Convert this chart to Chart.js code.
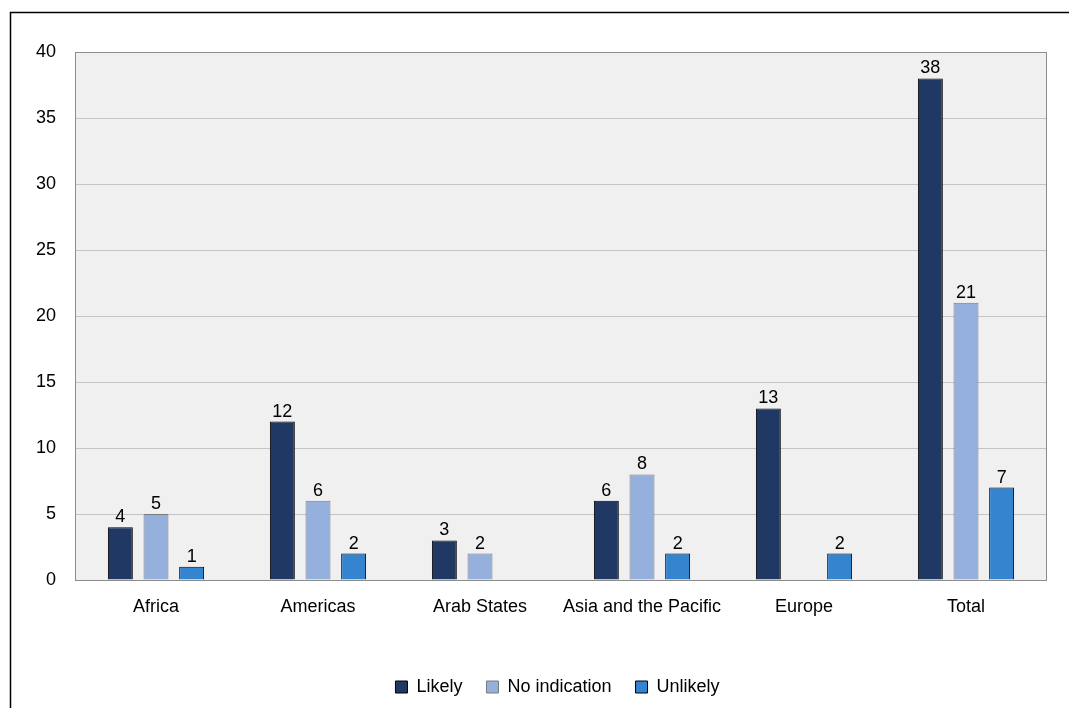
<!DOCTYPE html>
<html>
<head>
<meta charset="utf-8">
<script src="https://cdn.jsdelivr.net/npm/chart.js@4"></script>
<style>
  html, body { margin: 0; padding: 0; background: #fff; }
  #wrap { width: 1069px; height: 708px; position: relative; }
</style>
</head>
<body>
<div id="wrap"><canvas id="grafico"></canvas></div>
<script>
// datos del grafico
const regiones = ['Africa', 'Americas', 'Arab States', 'Asia and the Pacific', 'Europe', 'Total'];
const likely = [4, 12, 3, 6, 13, 38];
const noIndication = [5, 6, 2, 8, null, 21];
const unlikely = [1, 2, null, 2, 2, 7];
const ticksY = [0, 5, 10, 15, 20, 25, 30, 35, 40];

const fuente = "'Liberation Sans', Arial, sans-serif";

// marco negro, fondo del area de trazado y etiquetas de valores
const fondo = {
    id: 'fondo',
    afterLayout(chart) {
        // la leyenda del original esta algo desplazada a la derecha
        if (chart.legend) {
            chart.legend.left += 34;
            chart.legend.right += 34;
        }
    },
    beforeDraw(chart) {
        const c = chart.ctx, a = chart.chartArea;
        c.save();
        c.fillStyle = '#ffffff';
        c.fillRect(0, 0, chart.width, chart.height);
        c.strokeStyle = '#000';
        c.lineWidth = 1.5;
        c.strokeRect(10.5, 12.5, 1200, 900);
        c.fillStyle = '#f0f0f0';
        c.fillRect(a.left, a.top, a.right - a.left, a.bottom - a.top);
        c.restore();
    },
    afterDatasetsDraw(chart) {
        const c = chart.ctx, a = chart.chartArea;
        c.save();
        c.strokeStyle = '#8c8c8c';
        c.lineWidth = 1;
        c.strokeRect(a.left + 0.5, a.top + 0.5, a.right - a.left - 1, a.bottom - a.top);
        c.fillStyle = '#000';
        c.font = '18px ' + fuente;
        c.textAlign = 'center';
        c.textBaseline = 'bottom';
        chart.data.datasets.forEach((ds, i) => {
            chart.getDatasetMeta(i).data.forEach((bar, j) => {
                const v = ds.data[j];
                if (v === null || v === undefined) return;
                c.fillText(String(v), bar.x, bar.y - 1);
            });
        });
        c.restore();
    }
};

new Chart(document.getElementById('grafico'), {
    type: 'bar',
    data: {
        labels: regiones,
        datasets: [
            { label: 'Likely', data: likely, backgroundColor: '#203864', borderColor: '#000000', borderWidth: 1 },
            { label: 'No indication', data: noIndication, backgroundColor: '#95b0dd', borderColor: '#7a7a7a', borderWidth: 1 },
            { label: 'Unlikely', data: unlikely, backgroundColor: '#3584d0', borderColor: '#000000', borderWidth: 1 }
        ]
    },
    options: {
        responsive: true,
        maintainAspectRatio: false,
        animation: false,
        layout: { padding: { top: 52, right: 22, left: 0, bottom: 2 } },
        datasets: { bar: { barPercentage: 0.7, categoryPercentage: 0.66 } },
        scales: {
            x: {
                grid: { display: false, drawTicks: false },
                border: { display: false },
                ticks: { color: '#000', font: { family: fuente, size: 18 }, padding: 16, maxRotation: 0 },
                afterFit: s => { s.height = 74; }
            },
            y: {
                min: 0, max: 40,
                afterBuildTicks: s => { s.ticks = ticksY.map(v => ({ value: v })); },
                grid: { color: '#c4c4c4', drawTicks: false },
                border: { display: false },
                ticks: { color: '#000', font: { family: fuente, size: 18 }, padding: 19 },
                afterFit: s => { s.width = 75; }
            }
        },
        plugins: {
            tooltip: { enabled: false },
            legend: {
                position: 'bottom',
                labels: {
                    color: '#000',
                    font: { family: fuente, size: 18 },
                    boxWidth: 12, boxHeight: 12,
                    padding: 24,
                    useBorderRadius: false
                }
            }
        }
    },
    plugins: [fondo]
});
</script>
</body>
</html>
